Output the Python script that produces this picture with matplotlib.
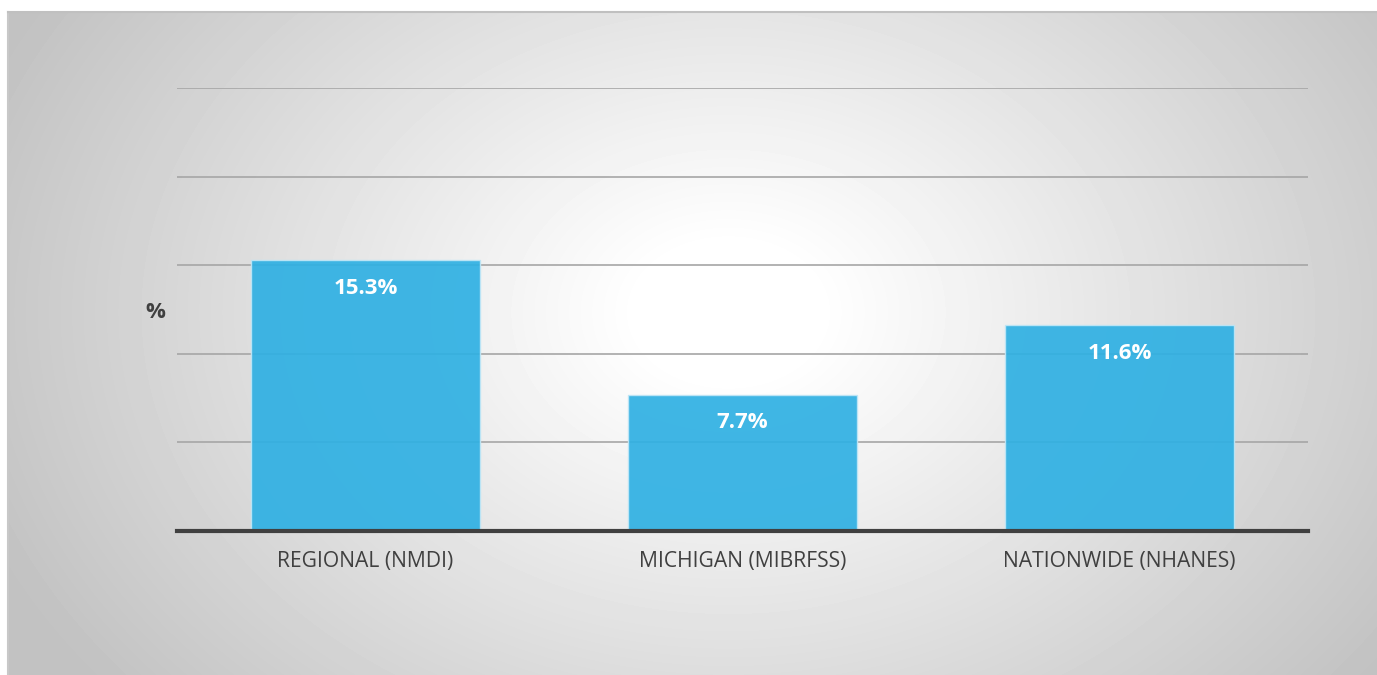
import numpy as np
import matplotlib.pyplot as plt

categories = ["REGIONAL (NMDI)", "MICHIGAN (MIBRFSS)", "NATIONWIDE (NHANES)"]
values = [15.3, 7.7, 11.6]
value_labels = ["15.3%", "7.7%", "11.6%"]
y_ticks = [0, 5, 10, 15, 20, 25]

plt.rcParams['font.family'] = ['Open Sans', 'DejaVu Sans']

fig = plt.figure(figsize=(13.77, 6.75), dpi=100)
fig.patch.set_facecolor("white")

# radial grey background panel
bg = fig.add_axes([8 / 1377, 0, 1 - 8 / 1377, 1 - 12 / 675])
h, w = 663, 1369
yy, xx = np.mgrid[0:h, 0:w]
cx, cy = 720, 300
d = np.sqrt(((xx - cx) / 1.0) ** 2 + ((yy - cy) / 0.75) ** 2)
t = np.clip((d - 90) / 710, 0, 1)
shade = 1.0 - 0.24 * t ** 1.0
bg.imshow(shade, cmap="gray", vmin=0, vmax=1, aspect="auto", interpolation="bilinear")
bg.set_axis_off()
fig.add_artist(plt.Line2D([8 / 1377, 8 / 1377], [0, 1 - 12 / 675], color="#c8c8c8", lw=1.5))
fig.add_artist(plt.Line2D([8 / 1377, 1], [1 - 12 / 675, 1 - 12 / 675], color="#c0c0c0", lw=1.5))

ax = fig.add_axes([177 / 1377, 144 / 675, (1308 - 177) / 1377, (531 - 88) / 675])
ax.patch.set_alpha(0)
x = np.arange(len(categories))
ax.bar(x, values, width=0.607, color="#2fb0e3", alpha=0.92, edgecolor="#bfe6f6", linewidth=1, zorder=3)
ax.set_xlim(-0.5, 2.5)
ax.set_ylim(0, 25)
ax.set_yticks(y_ticks)
ax.yaxis.grid(True, color="#a6a6a6", lw=1.2, zorder=1)
ax.tick_params(axis="y", left=False, labelleft=False)
ax.tick_params(axis="x", bottom=False, pad=11)
ax.set_xticks(x)
ax.set_xticklabels(categories, fontsize=15.2, color="#404040")
for s in ["top", "right", "left"]:
    ax.spines[s].set_visible(False)
ax.spines["bottom"].set_color("#404040")
ax.spines["bottom"].set_linewidth(3)
ax.spines["bottom"].set_zorder(4)

for i, v in enumerate(values):
    ax.text(x[i], v - 1.6, value_labels[i], ha="center", va="center", color="white",
            fontsize=16, fontweight="bold", zorder=5)

fig.text(155 / 1377, 1 - 313 / 675, "%", ha="center", va="center", fontsize=16,
         fontweight="bold", color="#404040")

fig.savefig("out.png", dpi=100)
